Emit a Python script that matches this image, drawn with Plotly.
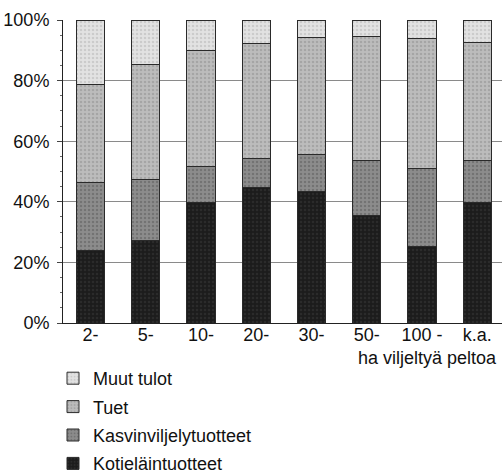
import plotly.graph_objects as go

categories = ["2-", "5-", "10-", "20-", "30-", "50-", "100 -", "k.a."]
kotielain = [23.8, 27.1, 39.7, 44.6, 43.5, 35.6, 25.1, 39.7]
kasvinviljely = [22.7, 20.2, 12.1, 9.7, 12.1, 18.1, 26.0, 13.9]
tuet = [32.1, 38.1, 38.1, 37.9, 38.7, 40.9, 42.8, 38.9]
muut = [21.4, 14.6, 10.1, 7.8, 5.7, 5.4, 6.1, 7.5]

series = [
    ("Kotieläintuotteet", kotielain, "#1c1c1c", "#3a3a3a", 4),
    ("Kasvinviljelytuotteet", kasvinviljely, "#8c8c8c", "#5a5a5a", 3),
    ("Tuet", tuet, "#bcbcbc", "#8e8e8e", 2),
    ("Muut tulot", muut, "#e2e2e2", "#b4b4b4", 1),
]

FONT = "Liberation Sans Narrow, Liberation Sans, Arial, sans-serif"

fig = go.Figure()
for name, vals, col, fg, rank in series:
    fig.add_trace(go.Bar(
        x=categories, y=vals, name=name, legendgroup=name, legendrank=rank,
        width=0.51,
        marker=dict(color=col, line=dict(color="#2a2a2a", width=1),
                    pattern=dict(shape=".", fgcolor=fg, bgcolor=col, size=4, solidity=0.3)),
    ))

fig.update_layout(
    barmode="stack",
    width=502, height=474,
    margin=dict(l=63, r=0, t=20, b=151, autoexpand=False),
    plot_bgcolor="white", paper_bgcolor="white",
    font=dict(family=FONT, size=18, color="#111"),
    showlegend=True,
    legend=dict(
        xref="container", yref="container",
        x=53 / 502, y=1 - 360 / 474, xanchor="left", yanchor="top",
        traceorder="grouped", tracegroupgap=2,
        font=dict(family=FONT, size=18, color="#111"),
        itemwidth=30, bgcolor="rgba(0,0,0,0)",
    ),
    xaxis=dict(
        range=[-0.5, 7.45], showgrid=False, showline=True, linecolor="#222",
        linewidth=1, ticks="", tickangle=0, tickfont=dict(size=18), fixedrange=True,
        automargin=False, ticklabelstandoff=-5,
    ),
    yaxis=dict(
        range=[0, 100], tickvals=[0, 20, 40, 60, 80, 100],
        ticktext=["0%", "20%", "40%", "60%", "80%", "100%"],
        showgrid=True, gridcolor="#8a8a8a", gridwidth=1,
        showline=True, linecolor="#222", linewidth=1,
        ticks="outside", ticklen=5, tickcolor="#444",
        minor=dict(dtick=5, ticks="outside", ticklen=2, tickcolor="#666", showgrid=False),
        tickfont=dict(size=18), zeroline=False, automargin=False,
        ticklabelstandoff=4,
    ),
    annotations=[dict(
        text="ha viljeltyä peltoa", xref="paper", yref="paper",
        x=1.0, y=-0.115, xanchor="right", yanchor="middle", showarrow=False,
        xshift=-3,
        font=dict(family=FONT, size=18, color="#111"),
    )],
)

fig.write_html(
    "out.html",
    config={"displayModeBar": False},
    post_script="document.body.style.margin='0';document.body.style.overflow='hidden';",
)
